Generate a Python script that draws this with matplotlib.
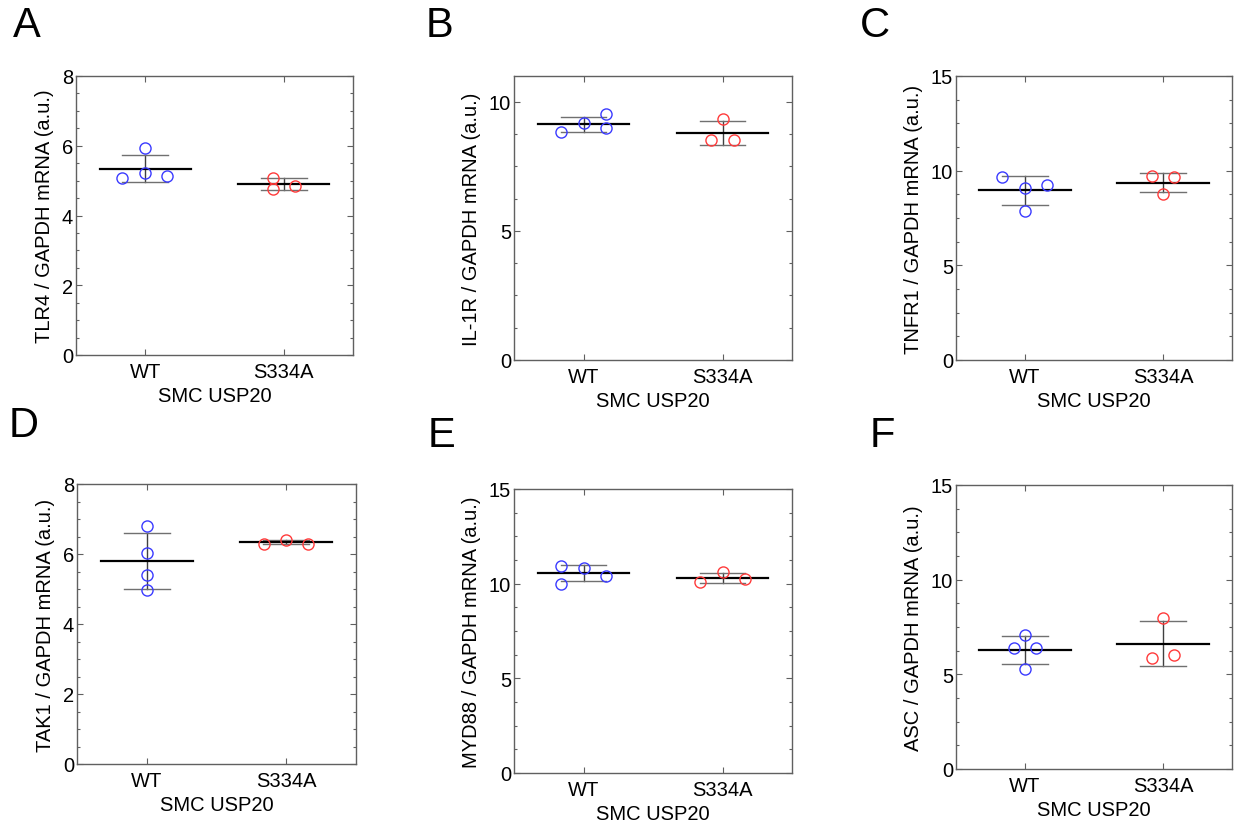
import numpy as np
import matplotlib.pyplot as plt
from matplotlib.ticker import MultipleLocator

plt.rcParams["font.family"] = ["Liberation Sans", "DejaVu Sans"]

# ---------------------------------------------------------
# DATA
# ---------------------------------------------------------
GROUPS = ["WT", "S334A"]
XLABEL = "SMC USP20"
PANELS = ["A", "B", "C", "D", "E", "F"]
GENES = ["TLR4", "IL-1R", "TNFR1", "TAK1", "MYD88", "ASC"]

tlr4_wt = [5.08, 5.93, 5.22, 5.14]
tlr4_s334a = [5.08, 4.75, 4.86]
il1r_wt = [8.84, 9.18, 9.51, 8.99]
il1r_s334a = [9.34, 8.51, 8.54]
tnfr1_wt = [9.68, 9.10, 9.23, 7.89]
tnfr1_s334a = [9.70, 9.65, 8.77]
tak1_wt = [6.81, 6.04, 5.40, 4.98]
tak1_s334a = [6.30, 6.41, 6.30]
myd88_wt = [10.95, 10.81, 10.00, 10.41]
myd88_s334a = [10.60, 10.11, 10.23]
asc_wt = [7.08, 6.39, 6.39, 5.28]
asc_s334a = [7.98, 5.85, 6.04]

WT_VALUES = [tlr4_wt, il1r_wt, tnfr1_wt, tak1_wt, myd88_wt, asc_wt]
S334A_VALUES = [tlr4_s334a, il1r_s334a, tnfr1_s334a, tak1_s334a, myd88_s334a, asc_s334a]

# y axis ranges / tick steps
YMAX = [8, 11, 15, 8, 15, 15]
YMAJOR = [2, 5, 5, 2, 5, 5]
YMINOR = [0.5, 1.25, 1.25, 0.5, 1.25, 1.25]

# ---------------------------------------------------------
# LAYOUT (scatter offsets in category units, axes boxes in px)
# ---------------------------------------------------------
WT_JITTER = [
    [-0.165, 0, 0, 0.16],
    [-0.165, 0, 0.16, 0.16],
    [-0.165, 0, 0.16, 0],
    [0, 0, 0, 0],
    [-0.16, 0, -0.16, 0.16],
    [0, -0.08, 0.08, 0],
]
S334A_JITTER = [
    [-0.08, -0.08, 0.08],
    [0, -0.08, 0.08],
    [-0.08, 0.08, 0],
    [-0.157, 0, 0.157],
    [0, -0.16, 0.16],
    [0, -0.08, 0.08],
]

W, H = 1238, 828
BOXES = [  # left, top, right, bottom in pixels
    (76, 77, 353, 356),
    (514, 77, 792, 361),
    (956, 77, 1232, 361),
    (77, 485, 356, 765),
    (514, 490, 792, 774),
    (956, 486, 1232, 770),
]
LETTER_POS = [(13, 37), (426, 37), (860, 37), (9, 437), (428, 447), (870, 447)]

BLUE = "#3a3aff"
RED = "#ff3a3a"
SPINE = "#606060"


def draw_group(ax, x, vals, jitter, color):
    vals = np.asarray(vals)
    m = vals.mean()
    sd = vals.std(ddof=1)
    ax.plot([x - 0.33, x + 0.33], [m, m], color="black", lw=1.6, zorder=3)
    ax.plot([x, x], [m - sd, m + sd], color="#404040", lw=1.0, zorder=2)
    for yv in (m - sd, m + sd):
        ax.plot([x - 0.165, x + 0.165], [yv, yv], color="#707070", lw=1.0, zorder=2)
    ax.plot(x + np.asarray(jitter), vals, "o", mfc="none", mec=color,
            ms=8, mew=1.0, zorder=4)


fig = plt.figure(figsize=(W / 100, H / 100), dpi=100)

for i in range(6):
    l, t, r, b = BOXES[i]
    ax = fig.add_axes([l / W, 1 - b / H, (r - l) / W, (b - t) / H])
    draw_group(ax, 1, WT_VALUES[i], WT_JITTER[i], BLUE)
    draw_group(ax, 2, S334A_VALUES[i], S334A_JITTER[i], RED)

    ax.set_xlim(0.5, 2.5)
    ax.set_ylim(0, YMAX[i])
    ax.set_xticks([1, 2])
    ax.set_xticklabels(GROUPS)
    ax.yaxis.set_major_locator(MultipleLocator(YMAJOR[i]))
    ax.yaxis.set_minor_locator(MultipleLocator(YMINOR[i]))
    ax.tick_params(which="both", direction="in", top=True, right=True,
                   labelsize=14.5, color=SPINE, width=0.8)
    ax.tick_params(which="major", length=4.5)
    ax.tick_params(which="minor", length=2.2)
    ax.tick_params(axis="y", pad=2)
    ax.tick_params(axis="x", pad=5)
    for sp in ax.spines.values():
        sp.set_color(SPINE)
        sp.set_linewidth(1.0)

    ax.set_xlabel(XLABEL, fontsize=14.5, labelpad=4)
    ax.set_ylabel(f"{GENES[i]} / GAPDH mRNA (a.u.)", fontsize=14.5, labelpad=6)

    lx, ly = LETTER_POS[i]
    fig.text(lx / W, 1 - ly / H, PANELS[i], fontsize=30, va="baseline", ha="left")

fig.savefig("out.png", dpi=100)
